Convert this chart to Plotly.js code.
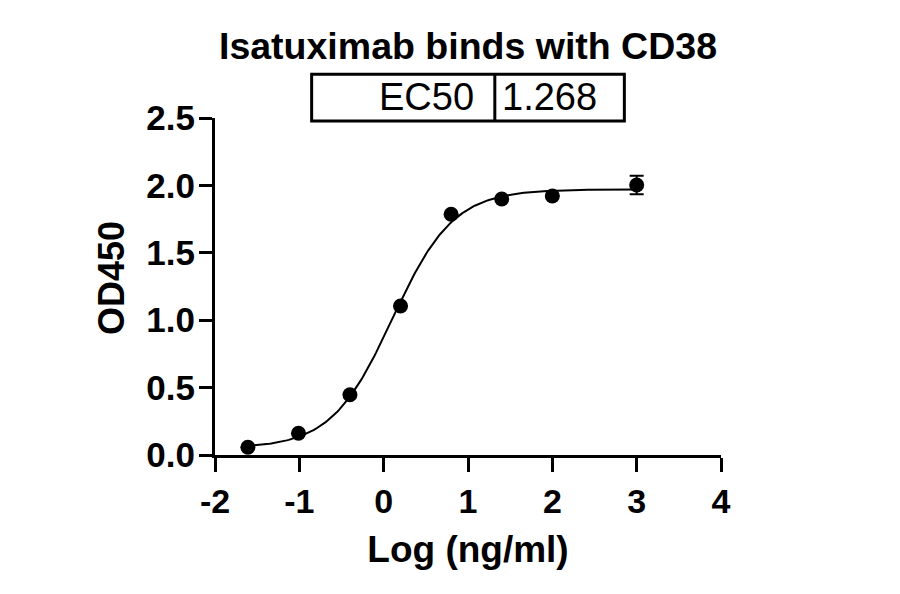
<!DOCTYPE html>
<html>
<head>
<meta charset="utf-8">
<script src="https://cdn.plot.ly/plotly-3.0.1.min.js"></script>
<style>
  html, body { margin: 0; padding: 0; background: #fff; }
  #chart { width: 900px; height: 594px; }
</style>
</head>
<body>
<div id="chart"></div>
<script>
// measured points: log10 concentration vs OD450
const logConc = [-1.61, -1.01, -0.40, 0.20, 0.80, 1.40, 2.00, 3.00];
const od450 = [0.057, 0.161, 0.447, 1.105, 1.786, 1.899, 1.921, 2.003];
const od450Err = [0, 0, 0, 0, 0, 0, 0, 0.068];

// 4PL fit (EC50 from the table)
const ec50 = 1.268;
const fitBottom = 0.05;
const fitTop = 1.97;
const fitHill = 1.2;
const fitRange = [-1.61, 3.0];

const xTicks = [-2, -1, 0, 1, 2, 3, 4];
const yTicks = [0, 0.5, 1, 1.5, 2, 2.5];

const logEc50 = Math.log10(ec50);
const fitX = [];
const fitY = [];
for (let i = 0; i <= 200; i++) {
  const x = fitRange[0] + (fitRange[1] - fitRange[0]) * i / 200;
  fitX.push(x);
  fitY.push(fitBottom + (fitTop - fitBottom) / (1 + Math.pow(10, (logEc50 - x) * fitHill)));
}

const curveTrace = {
  x: fitX,
  y: fitY,
  mode: 'lines',
  type: 'scatter',
  line: { color: '#000', width: 2 },
  hoverinfo: 'skip'
};

const pointsTrace = {
  x: logConc,
  y: od450,
  mode: 'markers',
  type: 'scatter',
  marker: { color: '#000', size: 15 },
  error_y: { type: 'data', array: od450Err, visible: true, color: '#000', thickness: 2, width: 7 }
};

const font = 'Liberation Sans, Arial, sans-serif';

const layout = {
  width: 900,
  height: 594,
  paper_bgcolor: '#fff',
  plot_bgcolor: '#fff',
  showlegend: false,
  margin: { l: 215, r: 179, t: 118, b: 139 },
  font: { family: font, color: '#000' },
  title: {
    text: '<b>Isatuximab binds with CD38</b>',
    font: { family: font, size: 37.5, color: '#000' },
    x: 468 / 900,
    xanchor: 'center',
    y: 1 - 46 / 594,
    yanchor: 'middle'
  },
  xaxis: {
    range: [-2, 4],
    tickvals: xTicks,
    ticktext: xTicks.map(String),
    showgrid: false,
    zeroline: false,
    showline: true,
    linecolor: '#000',
    linewidth: 3,
    ticks: 'outside',
    ticklen: 14,
    tickwidth: 3,
    tickcolor: '#000',
    tickfont: { family: font, size: 34, color: '#000', weight: 'bold' },
    title: {
      text: '<b>Log (ng/ml)</b>',
      font: { family: font, size: 37, color: '#000' },
      standoff: 18
    }
  },
  yaxis: {
    range: [0, 2.5],
    tickvals: yTicks,
    ticktext: yTicks.map(v => v.toFixed(1)),
    showgrid: false,
    zeroline: false,
    showline: true,
    linecolor: '#000',
    linewidth: 3,
    ticks: 'outside',
    ticklen: 13,
    tickwidth: 3,
    tickcolor: '#000',
    ticklabelstandoff: -3,
    tickfont: { family: font, size: 35, color: '#000', weight: 'bold' }
  },
  shapes: [
    { type: 'rect', xref: 'paper', yref: 'paper', x0: 0.191, x1: 0.809, y0: 0.991, y1: 1.1297,
      line: { color: '#000', width: 3 }, fillcolor: 'rgba(0,0,0,0)' },
    { type: 'line', xref: 'paper', yref: 'paper', x0: 0.553, x1: 0.553, y0: 0.991, y1: 1.1297,
      line: { color: '#000', width: 3 } }
  ],
  annotations: [
    { text: 'EC50', xref: 'paper', yref: 'paper', x: 0.516, y: 1.061, xanchor: 'right', yanchor: 'middle',
      showarrow: false, font: { family: font, size: 38, color: '#000' } },
    { text: '1.268', xref: 'paper', yref: 'paper', x: 0.563, y: 1.061, xanchor: 'left', yanchor: 'middle',
      showarrow: false, font: { family: font, size: 38, color: '#000' } },
    { text: '<b>OD450</b>', xref: 'paper', yref: 'paper', x: -0.2045, y: 0.524, xanchor: 'center', yanchor: 'middle',
      textangle: -90, showarrow: false, font: { family: font, size: 36, color: '#000' } }
  ]
};

Plotly.newPlot('chart', [curveTrace, pointsTrace], layout, { displayModeBar: false, staticPlot: true });
</script>
</body>
</html>
